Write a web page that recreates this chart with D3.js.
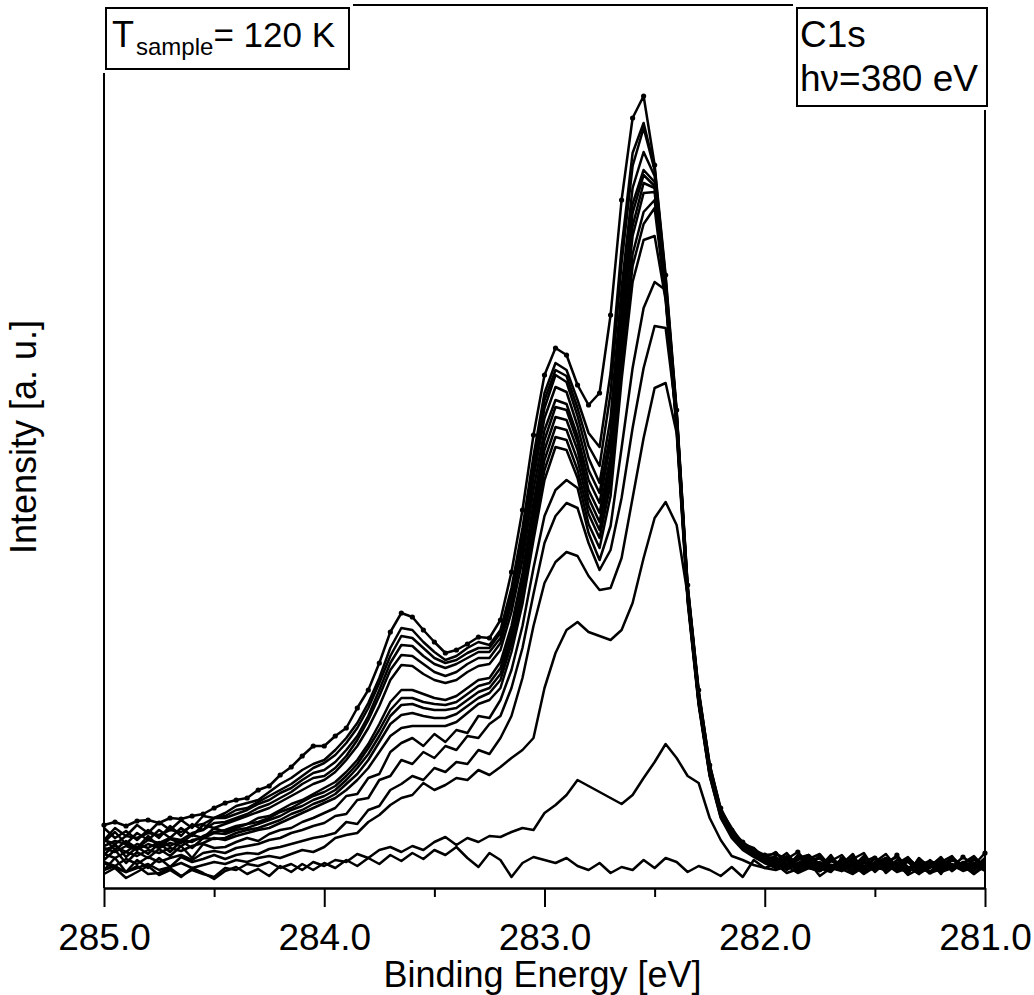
<!DOCTYPE html>
<html><head><meta charset="utf-8">
<script src="https://cdn.jsdelivr.net/npm/d3@7"></script>
<style>
body{margin:0;background:#fff}
svg{display:block}
text{font-family:"Liberation Sans",Arial,Helvetica,sans-serif;fill:#000}
</style>
</head><body>
<svg id="c" width="1034" height="995"></svg>
<script>
// Binding energy grid [eV]
const energies = [
285.00,284.95,284.90,284.85,284.80,284.75,284.70,284.65,284.60,284.55,
284.50,284.45,284.40,284.35,284.30,284.25,284.20,284.15,284.10,284.05,
284.00,283.95,283.90,283.85,283.80,283.75,283.70,283.65,283.60,283.55,
283.50,283.45,283.40,283.35,283.30,283.25,283.20,283.15,283.10,283.05,
283.00,282.95,282.90,282.85,282.80,282.75,282.70,282.65,282.60,282.55,
282.50,282.45,282.40,282.35,282.30,282.25,282.20,282.15,282.10,282.05,
282.00,281.95,281.90,281.85,281.80,281.75,281.70,281.65,281.60,281.55,
281.50,281.45,281.40,281.35,281.30,281.25,281.20,281.15,281.10,281.05,
281.00];

// Intensities [a.u.] of the C1s spectra (s01 = last / highest spectrum)
const s01 = [63,66,62,67,68,65,70,69,72,74,80,
 85,88,90,98,102,113,121,132,142,142,
 152,160,180,198,225,256,275,271,258,246,
 235,238,244,251,250,268,316,378,453,513,
 540,533,503,483,495,573,688,770,792,723,
 613,478,303,198,123,80,58,46,38,33,
 34,29,36,24,31,20,29,26,17,30,22,33,19,27,16,25,21,31,23,35];
const s02 = [48,60,52,63,55,66,58,68,60,72,70,
 75,82,85,88,96,104,110,118,124,128,
 138,150,165,185,210,240,260,258,246,236,
 228,232,240,246,243,258,300,360,432,495,
 525,518,488,455,441,515,640,735,765,720,
 610,476,302,196,124,78,60,44,40,30,
 36,22,30,33,19,28,24,34,15,25,30,18,29,21,27,14,31,20,28,24];
const s03 = [48,44,52,50,55,53,58,56,62,64,70,
 72,78,80,86,92,98,104,112,120,125,
 133,145,160,180,205,232,252,250,240,230,
 225,228,235,240,240,255,296,352,425,488,
 518,512,480,442,422,495,625,722,760,718,
 606,474,300,194,120,76,56,45,36,32,
 27,35,22,30,17,27,33,20,28,16,26,31,21,14,28,19,30,23,17,29];
const s04 = [60,50,57,48,58,50,62,52,64,58,70,
 70,74,78,84,88,95,100,108,115,118,
 126,138,152,172,198,225,243,242,232,224,
 220,224,230,236,236,250,290,345,418,480,
 513,506,472,430,405,470,600,700,736,712,
 604,472,300,196,122,78,58,42,38,30,
 31,21,33,26,18,30,22,29,35,18,26,20,30,15,24,28,17,25,32,20];
const s05 = [42,47,44,40,48,45,50,48,55,58,65,
 66,70,74,80,84,90,96,104,110,112,
 120,132,148,168,192,218,233,232,224,216,
 212,216,224,230,230,245,284,338,410,470,
 501,496,462,418,395,455,585,684,718,706,
 600,470,298,194,120,77,57,44,35,31,
 25,32,20,29,34,21,27,17,26,31,19,25,16,29,21,31,17,26,20,30];
const s06 = [46,56,44,55,48,58,50,60,52,63,60,
 64,68,72,76,80,86,92,98,104,108,
 116,128,142,160,182,208,223,222,214,208,
 205,208,216,222,224,238,276,328,398,458,
 488,484,452,408,385,445,575,675,713,702,
 598,468,296,192,118,75,55,43,36,29,
 30,19,28,33,23,17,30,21,32,18,28,24,14,30,20,26,32,18,25,17];
const s07 = [38,42,36,44,40,46,42,48,46,52,56,
 58,62,64,70,72,78,84,88,94,100,
 106,116,128,144,164,186,198,198,194,190,
 188,192,200,208,210,226,262,315,385,448,
 481,478,446,398,375,432,560,662,705,700,
 596,466,294,190,118,76,56,42,35,30,
 22,31,18,28,21,33,17,26,20,30,15,24,31,19,27,17,28,22,14,26];
const s08 = [50,38,47,40,52,41,49,45,53,50,60,
 56,60,64,66,70,76,80,86,92,96,
 102,112,124,140,158,178,190,190,186,184,
 183,186,194,202,205,220,256,308,376,438,
 471,468,438,390,366,424,550,652,695,696,
 594,464,294,190,117,74,54,43,34,28,
 29,20,32,23,17,27,21,31,18,26,34,20,16,28,22,30,18,25,19,28];
const s09 = [40,36,42,38,44,40,45,42,48,50,55,
 54,58,60,64,68,72,78,82,88,92,
 98,108,120,134,152,172,183,184,180,178,
 178,180,188,196,200,214,250,300,368,428,
 461,458,428,382,358,414,535,634,676,688,
 592,462,292,188,116,74,54,41,35,28,
 21,30,17,26,31,20,28,16,25,19,30,22,27,14,21,29,18,24,30,19];
const s10 = [33,44,31,41,34,45,36,47,40,50,49,
 50,55,58,60,64,68,74,78,84,88,
 94,104,114,128,146,164,173,175,172,170,
 170,174,182,190,195,208,244,292,358,418,
 451,448,418,374,350,404,522,622,664,680,
 590,460,290,186,115,73,53,42,33,27,
 28,18,25,31,20,16,27,22,30,17,25,19,29,21,15,27,23,18,29,21];
const s11 = [34,30,36,32,38,35,40,37,42,45,50,
 48,52,55,58,60,65,70,75,80,85,
 90,98,108,120,136,152,160,162,162,162,
 162,166,175,184,188,200,236,284,348,408,
 441,438,410,364,340,392,508,606,648,652,
 588,458,290,186,114,72,52,40,34,27,
 20,28,16,25,30,19,24,15,27,21,18,28,20,25,16,23,30,18,21,27];
const s12 = [28,38,25,36,30,39,32,42,30,44,40,
 41,46,50,47,54,58,60,66,70,75,
 80,92,94,110,114,136,145,150,142,154,
 146,158,155,172,170,188,218,262,320,372,
 398,408,400,355,328,362,440,520,580,606,
 598,476,292,186,114,73,52,40,33,26,
 25,20,24,28,21,23,19,26,22,24,20,25,18,23,27,21,24,19,22,26];
const s13 = [26,22,29,24,31,26,30,33,28,35,37,
 35,40,42,44,48,50,55,58,62,65,
 72,74,88,90,108,112,128,124,136,130,
 142,138,152,150,164,172,200,240,294,345,
 372,385,380,345,318,338,390,460,520,562,
 560,470,288,184,112,71,51,39,32,26,
 21,25,19,23,26,20,24,22,18,25,21,23,27,19,22,24,20,26,21,23];
const s14 = [18,30,16,28,20,30,21,31,26,29,33,
 29,33,35,34,39,41,44,47,50,52,
 55,66,64,78,82,98,104,112,108,120,
 116,126,124,138,134,150,172,210,262,305,
 326,336,332,312,298,300,330,390,450,500,
 505,455,286,183,112,70,50,38,31,25,
 20,24,18,22,25,19,23,21,17,24,20,22,26,18,21,23,19,25,20,22];
const s15 = [18,22,16,20,24,18,21,25,20,23,26,
 24,28,26,30,32,30,34,38,36,41,
 50,53,55,66,73,83,90,93,105,98,
 103,110,108,118,113,121,130,138,150,200,
 235,258,266,256,252,248,258,285,330,370,
 386,363,293,188,118,78,55,40,32,25,
 22,19,24,20,17,23,21,25,18,22,20,24,19,21,23,18,22,20,24,19];
const s16 = [25,20,16,22,14,15,20,12,18,14,11,
 20,18,24,22,26,20,24,18,26,22,
 28,26,34,30,38,41,36,42,38,46,
 51,43,50,46,52,51,56,60,58,75,
 83,93,108,102,96,90,84,93,110,126,
 144,130,112,105,70,48,32,28,23,20,
 18,22,15,20,17,23,19,14,21,18,24,16,20,22,15,19,23,17,21,18];
const s17 = [14,20,10,16,22,13,18,11,20,15,9,
 17,21,14,19,12,22,16,24,18,25,
 20,28,22,30,24,33,27,35,29,38,
 33,41,30,21,35,28,11,25,31,28,
 25,30,22,18,25,15,21,18,28,20,
 30,26,16,22,18,12,21,11,28,20,
 24,15,19,26,12,20,17,23,14,21,18,25,13,19,22,16,20,24,14,22];

const spectra = [s17,s16,s15,s14,s13,s12,s11,s10,s09,s08,s07,s06,s05,s04,s03,s02,s01];
const markedSpectrum = s01;

const xMajorTicks = [285.0, 284.0, 283.0, 282.0, 281.0];
const xMinorTicks = [284.5, 283.5, 282.5, 281.5];
const xTitle = "Binding Energy [eV]";
const yTitle = "Intensity [a. u.]";
const tempLabel = {main: "T", sub: "sample", rest: "= 120 K"};
const lineLabel = ["C1s", "h\u03BD=380 eV"];

const svg = d3.select("#c");
svg.append("rect").attr("width",1034).attr("height",995).attr("fill","#fff");

const x = d3.scaleLinear().domain([285, 281]).range([104, 985]);
const y = d3.scaleLinear().domain([0, 883]).range([888, 5]);

// curves
const line = d3.line()
  .x((d,i) => x(energies[i]))
  .y(d => y(d))
  .defined(d => d != null);

svg.append("g").selectAll("path").data(spectra).join("path")
  .attr("d", line)
  .attr("fill","none")
  .attr("stroke","#000")
  .attr("stroke-width",2.5)
  .attr("stroke-linejoin","round");

svg.append("g").selectAll("circle").data(markedSpectrum).join("circle")
  .attr("cx",(d,i)=>x(energies[i]))
  .attr("cy",d=>y(d))
  .attr("r",2.6)
  .attr("fill","#000");

// frame
const fr = svg.append("g").attr("stroke","#000").attr("stroke-width",2).attr("fill","none");
fr.append("line").attr("x1",x(285)).attr("x2",x(285)).attr("y1",y(883)).attr("y2",y(0));
fr.append("line").attr("x1",x(281)).attr("x2",x(281)).attr("y1",y(883)).attr("y2",y(0));
fr.append("line").attr("x1",x(285)).attr("x2",x(281)).attr("y1",y(883)).attr("y2",y(883));

// bottom axis
const axMinor = svg.append("g").attr("transform",`translate(0,${y(0)})`)
  .call(d3.axisBottom(x).tickValues(xMinorTicks).tickSize(9).tickSizeOuter(0).tickFormat(""));
const axMajor = svg.append("g").attr("transform",`translate(0,${y(0)})`)
  .call(d3.axisBottom(x).tickValues(xMajorTicks).tickSize(19).tickSizeOuter(0).tickFormat(d3.format(".1f")));
[axMinor, axMajor].forEach(g => {
  g.select(".domain").attr("stroke","#000").attr("stroke-width",2);
  g.selectAll(".tick line").attr("stroke","#000").attr("stroke-width",2);
});
axMajor.selectAll(".tick text")
  .attr("y",62).attr("dy",null)
  .attr("font-size",37)
  .attr("font-family",'"Liberation Sans",Arial,sans-serif')
  .attr("fill","#000");

// titles
svg.append("text").attr("x",542.5).attr("y",987).attr("text-anchor","middle")
  .attr("font-size",36).text(xTitle);
svg.append("text").attr("transform","translate(36,437) rotate(-90)")
  .attr("text-anchor","middle").attr("font-size",36).text(yTitle);

// temperature box
svg.append("rect").attr("x",99).attr("y",0).attr("width",254).attr("height",73).attr("fill","#fff");
svg.append("rect").attr("x",106).attr("y",8).attr("width",243).attr("height",61)
  .attr("fill","#fff").attr("stroke","#000").attr("stroke-width",2);
const tt = svg.append("text").attr("x",112).attr("y",47).attr("font-size",36);
tt.append("tspan").text(tempLabel.main);
tt.append("tspan").attr("font-size",24).attr("dx",2).attr("dy",8).text(tempLabel.sub);
tt.append("tspan").attr("font-size",35).attr("dy",-8).text(tempLabel.rest);

// C1s box
svg.append("rect").attr("x",793).attr("y",0).attr("width",200).attr("height",110).attr("fill","#fff");
svg.append("rect").attr("x",797).attr("y",8).attr("width",190).attr("height",98)
  .attr("fill","#fff").attr("stroke","#000").attr("stroke-width",2);
svg.append("text").attr("x",800).attr("y",47).attr("font-size",37).text(lineLabel[0]);
svg.append("text").attr("x",800).attr("y",91).attr("font-size",37).text(lineLabel[1]);
</script>
</body></html>
